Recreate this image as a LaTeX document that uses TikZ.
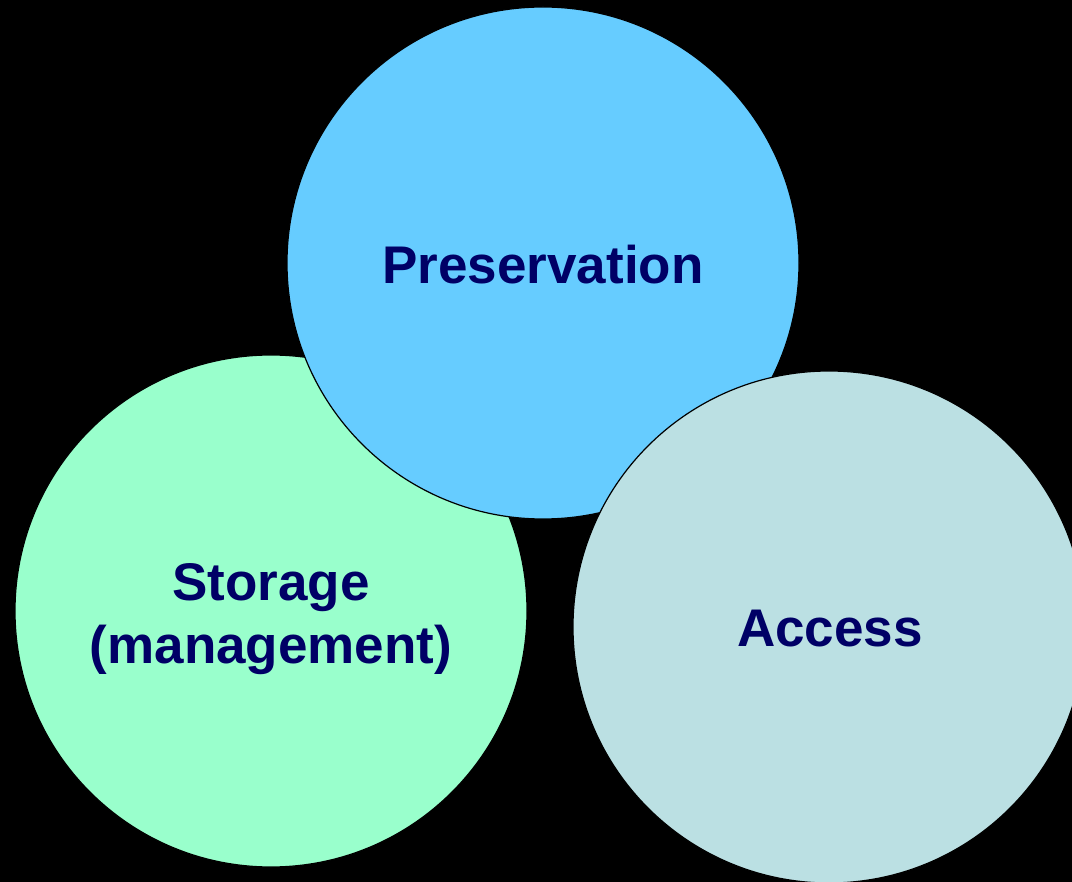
\documentclass[tikz,border=0pt]{standalone}
\usepackage{fontspec}
\setmainfont{Liberation Sans}
\definecolor{presblue}{HTML}{66CCFF}
\definecolor{storgreen}{HTML}{99FFCC}
\definecolor{accblue}{HTML}{BBE0E3}
\definecolor{navy}{HTML}{000066}
\begin{document}
\begin{tikzpicture}[x=1pt,y=-1pt,
  bubble/.style={circle, draw=black, line width=1.2pt, minimum size=512pt, inner sep=0pt},
  label/.style={text=navy, font=\fontsize{53}{63}\selectfont\bfseries, align=center}]
\fill[black] (0,0) rectangle (1072,882);
\useasboundingbox (0,0) rectangle (1072,882);
\begin{scope}
\clip (0,0) rectangle (1072,882);
\node[bubble, fill=storgreen] (stor) at (271,611) {};
\node[bubble, fill=presblue] (pres) at (543,263) {};
\node[bubble, fill=accblue] (acc) at (829,627) {};
\end{scope}
\node[label] (presT) at (543,265) {Preservation};
\node[label] (storT) at (271,619) {Storage\\(management)};
\node[label] (accT) at (830,629) {Access};
\end{tikzpicture}
\end{document}
